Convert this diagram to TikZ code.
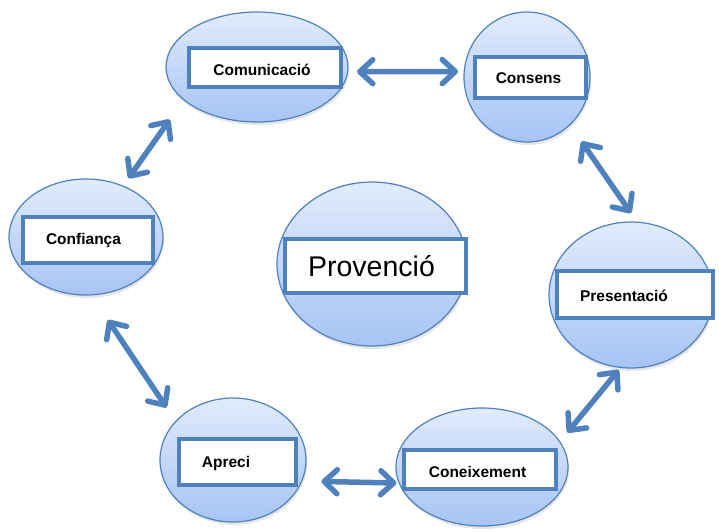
\documentclass[tikz,border=0pt]{standalone}
\usepackage{fontspec}
\setmainfont{Liberation Sans}
\usetikzlibrary{shapes.geometric,arrows.meta,shadows}
\definecolor{edgeblue}{RGB}{79,129,189}
\definecolor{topblue}{RGB}{225,235,252}
\definecolor{botblue}{RGB}{166,196,244}

\begin{document}
\begin{tikzpicture}[x=1pt,y=-1pt,
    bubble/.style={ellipse,draw=edgeblue,line width=1.2pt,top color=topblue,bottom color=botblue,
      inner sep=0pt,outer sep=0pt,drop shadow={shadow xshift=1pt,shadow yshift=-3pt,opacity=0.2}},
    tag/.style={draw=edgeblue,line width=4pt,fill=white,inner sep=0pt},
    word/.style={font=\bfseries\fontsize{15.5}{18}\selectfont,inner sep=0pt,anchor=base},
    link/.style={draw=edgeblue,line width=5.5pt,
      {Straight Barb[length=13pt,width=24pt,round]}-{Straight Barb[length=13pt,width=24pt,round]}}]
    \useasboundingbox (0,0) rectangle (719,531);
    % bubbles
    \node[bubble,minimum width=182,minimum height=110] (comm) at (257,67) {};
    \node[bubble,minimum width=126,minimum height=130] (cons) at (527,77) {};
    \node[bubble,minimum width=154,minimum height=116] (conf) at (86,237) {};
    \node[bubble,minimum width=190,minimum height=164] (prov) at (372,264) {};
    \node[bubble,minimum width=164,minimum height=146] (pres) at (631,295) {};
    \node[bubble,minimum width=146,minimum height=124] (apre) at (233,460) {};
    \node[bubble,minimum width=172,minimum height=118] (cone) at (482,467) {};
    % boxes
    \node[tag,minimum width=152,minimum height=39] (comm-box) at (265,67.5) {};
    \node[tag,minimum width=111,minimum height=41] (cons-box) at (530,77.5) {};
    \node[tag,minimum width=130,minimum height=46] (conf-box) at (88,240) {};
    \node[tag,minimum width=181,minimum height=54] (prov-box) at (375.5,266) {};
    \node[tag,minimum width=156,minimum height=47] (pres-box) at (635,294.5) {};
    \node[tag,minimum width=117,minimum height=46] (apre-box) at (237.5,462) {};
    \node[tag,minimum width=152,minimum height=39] (cone-box) at (480,469.5) {};
    % labels
    \node[word] (comm-txt) at (262,75) {Comunicació};
    \node[word] (cons-txt) at (528.5,83) {Consens};
    \node[word] (conf-txt) at (83.5,244) {Confiança};
    \node[word] (pres-txt) at (624,301) {Presentació};
    \node[word] (apre-txt) at (226,467.5) {Apreci};
    \node[word] (cone-txt) at (477.5,477) {Coneixement};
    \node[font=\fontsize{28.5}{34}\selectfont,inner sep=0pt,anchor=base] (prov-txt) at (371.5,276.5) {Provenció};
    % arrows
    \draw[link,shorten <=9.4pt,shorten >=6.2pt] (comm.-3.2) -- (cons.175.4);
    \draw[link,shorten <=20.5pt,shorten >=11.1pt] (cons.-48.6) -- (pres.85.8);
    \draw[link,shorten <=3.4pt,shorten >=12pt] (pres.-98.5) -- (cone.18.4);
    \draw[link,shorten <=2.8pt,shorten >=19.7pt] (cone.-169.8) -- (apre.-17.9);
    \draw[link,shorten <=16.8pt,shorten >=30.2pt] (apre.146.6) -- (conf.-85.9);
    \draw[link,shorten <=9.65pt,shorten >=24.4pt] (conf.54.5) -- (comm.-156.7);
\end{tikzpicture}
\end{document}
